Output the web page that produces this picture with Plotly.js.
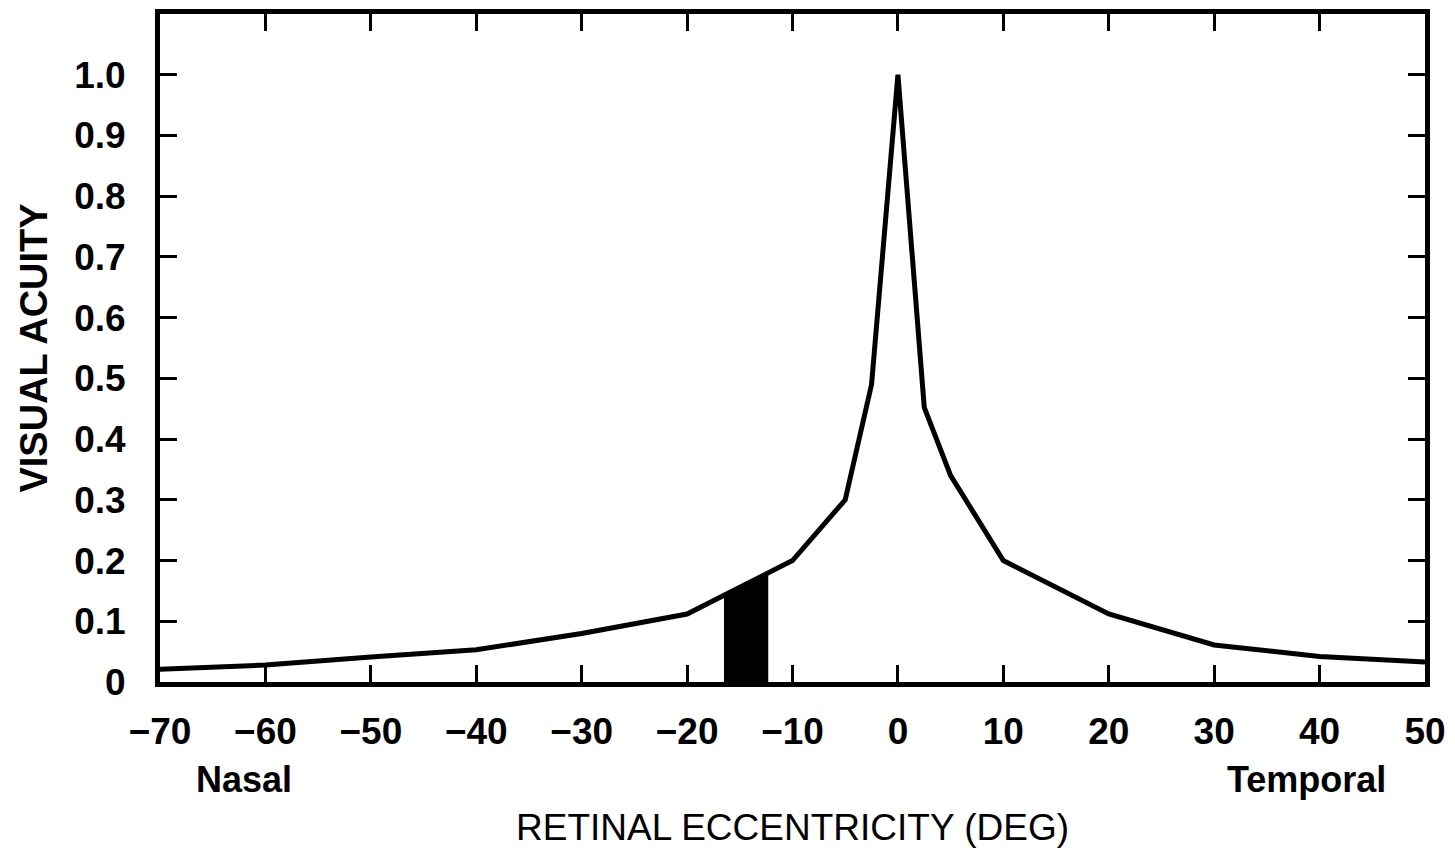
<!DOCTYPE html>
<html>
<head>
<meta charset="utf-8">
<script src="https://cdn.plot.ly/plotly-3.0.1.min.js"></script>
<style>
html,body{margin:0;padding:0;background:#fff;}
#chart{width:1455px;height:852px;}
</style>
</head>
<body>
<div id="chart"></div>
<script>
// Retinal eccentricity (deg) and visual acuity
const eccentricity = [-70, -60, -50, -40, -30, -20, -10, -5, -2.5, 0, 2.5, 5, 10, 20, 30, 40, 50];
const acuity       = [0.021, 0.028, 0.041, 0.053, 0.080, 0.112, 0.200, 0.300, 0.490, 1.000, 0.452, 0.340, 0.200, 0.112, 0.061, 0.042, 0.033];

// Blind spot (filled black region)
const blindSpotX = [-16.5, -12.3];
const blindSpotY = [0.140, 0.180];

const xTickVals = [-70, -60, -50, -40, -30, -20, -10, 0, 10, 20, 30, 40, 50];
const xTickText = ['\u221270', '\u221260', '\u221250', '\u221240', '\u221230', '\u221220', '\u221210', '0', '10', '20', '30', '40', '50'];
const yTickVals = [0, 0.1, 0.2, 0.3, 0.4, 0.5, 0.6, 0.7, 0.8, 0.9, 1.0];
const yTickText = ['0', '0.1', '0.2', '0.3', '0.4', '0.5', '0.6', '0.7', '0.8', '0.9', '1.0'];

const sideLabels = [
  {text: 'Nasal', x: -62},
  {text: 'Temporal', x: 38.8}
];

const FONT = 'Liberation Sans, Arial, sans-serif';

const traces = [
  {
    x: blindSpotX, y: blindSpotY, type: 'scatter', mode: 'lines',
    fill: 'tozeroy', fillcolor: '#000', line: {width: 0, color: '#000'},
    hoverinfo: 'skip', showlegend: false
  },
  {
    x: eccentricity, y: acuity, type: 'scatter', mode: 'lines',
    line: {color: '#000', width: 5}, showlegend: false
  }
];

const axisCommon = {
  showline: true, linecolor: '#000', linewidth: 5, mirror: 'ticks',
  ticks: 'inside', ticklen: 17, tickwidth: 3, tickcolor: '#000',
  showgrid: false, zeroline: false, tickmode: 'array',
  tickfont: {family: FONT, size: 37, color: '#000', weight: 'bold'}
};

const layout = {
  width: 1455, height: 852,
  margin: {l: 160, r: 30, t: 14, b: 170, pad: 0},
  paper_bgcolor: '#fff', plot_bgcolor: '#fff',
  xaxis: Object.assign({}, axisCommon, {
    range: [-70, 50], tickvals: xTickVals, ticktext: xTickText,
    ticklabelstandoff: 13,
    title: {text: 'RETINAL ECCENTRICITY (DEG)', standoff: 64,
            font: {family: FONT, size: 37, color: '#000'}}
  }),
  yaxis: Object.assign({}, axisCommon, {
    range: [0, 1.1], tickvals: yTickVals, ticktext: yTickText,
    ticklabelstandoff: 22,
    title: {text: 'VISUAL ACUITY', standoff: 16,
            font: {family: FONT, size: 38, color: '#000', weight: 'bold'}}
  }),
  annotations: sideLabels.map(s => ({
    text: s.text, x: s.x, xref: 'x', y: -0.146, yref: 'paper',
    showarrow: false, xanchor: 'center', yanchor: 'middle',
    font: {family: FONT, size: 36, color: '#000', weight: 'bold'}
  }))
};

Plotly.newPlot('chart', traces, layout, {displayModeBar: false, staticPlot: true});
</script>
</body>
</html>
